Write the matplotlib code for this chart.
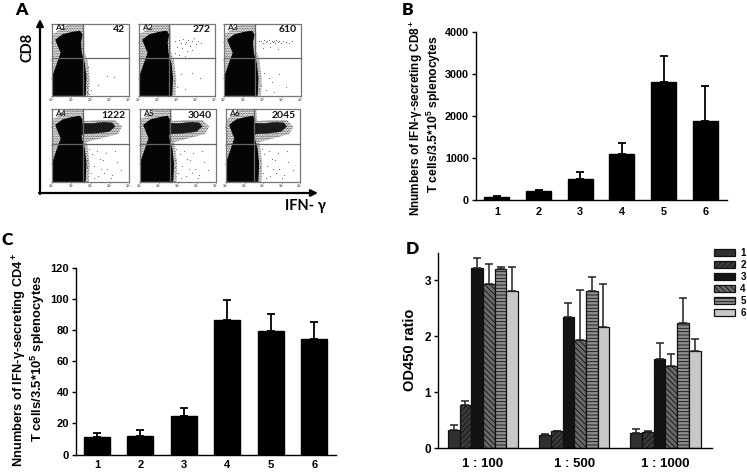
import matplotlib
matplotlib.use("Agg")
import matplotlib.pyplot as plt
from matplotlib.patches import Patch

plt.rcParams['font.family'] = ['Liberation Sans', 'DejaVu Sans']
plt.rcParams['font.weight'] = 'bold'
plt.rcParams['mathtext.fontset'] = 'custom'
plt.rcParams['mathtext.rm'] = 'Liberation Sans:bold'
plt.rcParams['mathtext.it'] = 'Liberation Sans:bold'
plt.rcParams['mathtext.bf'] = 'Liberation Sans:bold'
plt.rcParams['hatch.linewidth'] = 0.6

W, H = 747, 473

# panel B
b_groups = ['1', '2', '3', '4', '5', '6']
b_values = [60, 215, 490, 1100, 2820, 1870]
b_tops = [85, 245, 660, 1360, 3430, 2710]

# panel C
c_groups = ['1', '2', '3', '4', '5', '6']
c_values = [11, 12, 25, 86, 79, 74]
c_tops = [14, 16, 30, 99, 90, 85]

# panel D
d_dilutions = ['1 : 100', '1 : 500', '1 : 1000']
d_series = ['1', '2', '3', '4', '5', '6']
d_values = [[0.32, 0.24, 0.27],
            [0.77, 0.30, 0.28],
            [3.22, 2.34, 1.59],
            [2.93, 1.93, 1.47],
            [3.20, 2.81, 2.24],
            [2.81, 2.16, 1.74]]
d_tops = [[0.41, 0.25, 0.34],
          [0.84, 0.31, 0.31],
          [3.41, 2.60, 1.88],
          [3.30, 2.82, 1.69],
          [3.24, 3.06, 2.69],
          [3.24, 2.94, 1.95]]
d_colors = ['#303030', '#3a3a3a', '#151515', '#6a6a6a', '#8c8c8c', '#c8c8c8']
d_hatches = [None, '//////', 'xxxxxx', '\\\\\\\\\\\\', '-----', None]

# panel A, outlines as fractions of each plot box
a_names = ['A1', 'A2', 'A3', 'A4', 'A5', 'A6']
a_counts = ['42', '272', '610', '1222', '3040', '2045']
a_vline = [0.40, 0.40, 0.40, 0.40, 0.40, 0.38]
core_u = [0.01, 0.43, 0.44, 0.42, 0.38, 0.37, 0.39, 0.36, 0.25, 0.14, 0.05, 0.08, 0.12, 0.08, 0.02, 0.01]
core_v = [0.01, 0.01, 0.25, 0.45, 0.60, 0.75, 0.85, 0.90, 0.88, 0.85, 0.78, 0.70, 0.60, 0.48, 0.30, 0.12]
halo_u = [0.00, 0.48, 0.49, 0.46, 0.42, 0.42, 0.41, 0.20, 0.01, 0.00]
halo_v = [0.00, 0.00, 0.25, 0.50, 0.62, 0.85, 0.99, 0.99, 0.86, 0.40]
band_u = [0.36, 0.50, 0.68, 0.78, 0.82, 0.74, 0.58, 0.42, 0.36]
band_v = [0.81, 0.80, 0.82, 0.81, 0.76, 0.69, 0.67, 0.66, 0.64]
band_halo_u = [0.36, 0.60, 0.82, 0.91, 0.86, 0.65, 0.42, 0.36]
band_halo_v = [0.83, 0.85, 0.85, 0.76, 0.66, 0.60, 0.54, 0.53]
a2_dots_u = [0.48, 0.50, 0.52, 0.55, 0.58, 0.60, 0.62, 0.65, 0.67, 0.70, 0.72, 0.75, 0.78, 0.82, 0.56, 0.63, 0.70, 0.47, 0.52, 0.60, 0.46, 0.50, 0.55, 0.44, 0.48, 0.60, 0.70, 0.80]
a2_dots_v = [0.76, 0.68, 0.78, 0.74, 0.79, 0.72, 0.75, 0.78, 0.70, 0.76, 0.80, 0.72, 0.77, 0.74, 0.66, 0.62, 0.64, 0.60, 0.57, 0.56, 0.22, 0.12, 0.30, 0.08, 0.18, 0.10, 0.32, 0.25]
a3_dots_u = [0.45, 0.48, 0.50, 0.52, 0.54, 0.56, 0.58, 0.60, 0.62, 0.63, 0.65, 0.66, 0.68, 0.70, 0.72, 0.74, 0.76, 0.80, 0.84, 0.88, 0.50, 0.60, 0.70, 0.46, 0.55, 0.65, 0.48, 0.52, 0.58, 0.72, 0.80, 0.62]
a3_dots_v = [0.76, 0.77, 0.74, 0.78, 0.75, 0.76, 0.78, 0.74, 0.77, 0.75, 0.76, 0.73, 0.78, 0.75, 0.77, 0.74, 0.76, 0.75, 0.74, 0.76, 0.66, 0.68, 0.65, 0.10, 0.08, 0.06, 0.15, 0.32, 0.25, 0.30, 0.12, 0.20]
a1_dots_u = [0.45, 0.46, 0.48, 0.44, 0.50, 0.72, 0.80, 0.47, 0.60]
a1_dots_v = [0.05, 0.12, 0.03, 0.30, 0.08, 0.28, 0.27, 0.40, 0.15]
lower_dots_u = [0.46, 0.50, 0.55, 0.60, 0.66, 0.72, 0.78, 0.84, 0.48, 0.52, 0.58, 0.64, 0.70, 0.76, 0.54, 0.62, 0.68, 0.46, 0.82, 0.90]
lower_dots_v = [0.30, 0.12, 0.22, 0.08, 0.30, 0.18, 0.10, 0.28, 0.45, 0.38, 0.42, 0.18, 0.40, 0.06, 0.05, 0.32, 0.12, 0.20, 0.42, 0.16]

# plot boxes of panel A in pixels: left, right, top, bottom
a_boxes = [(52, 129, 24, 96), (139, 215, 24, 96), (224, 301, 24, 96),
           (52, 129, 109, 182), (140, 216, 109, 182), (226, 300, 109, 182)]
a_dots = [(a1_dots_u, a1_dots_v), (a2_dots_u, a2_dots_v), (a3_dots_u, a3_dots_v),
          (lower_dots_u, lower_dots_v), (lower_dots_u, lower_dots_v), (lower_dots_u, lower_dots_v)]


def add_axes(fig, left, right, top, bottom):
    return fig.add_axes([left / W, 1 - bottom / H, (right - left) / W, (bottom - top) / H])


def style_axes(ax, size):
    ax.spines['top'].set_visible(False)
    ax.spines['right'].set_visible(False)
    ax.spines['left'].set_linewidth(1.0)
    ax.spines['bottom'].set_linewidth(1.0)
    ax.tick_params(axis='y', length=3, width=1.0, labelsize=size, pad=2)
    ax.tick_params(axis='x', length=0, labelsize=size, pad=5)


def black_bars(ax, names, values, tops, width):
    x = list(range(1, len(names) + 1))
    errs = [t - v for t, v in zip(tops, values)]
    ax.bar(x, values, width=width, color='black', edgecolor='black')
    ax.errorbar(x, values, yerr=[[0] * len(x), errs], fmt='none', ecolor='black',
                elinewidth=1.3, capsize=2.8, capthick=1.3)
    ax.set_xticks(x)
    ax.set_xticklabels(names)


fig = plt.figure(figsize=(W / 100, H / 100), dpi=100)

# panel A and all free text are placed in pixel coordinates
bg = fig.add_axes([0, 0, 1, 1])
bg.set_xlim(0, W)
bg.set_ylim(H, 0)
bg.axis('off')

for i, (l, r, t, b) in enumerate(a_boxes):
    w, h = r - l, b - t
    px = lambda us: [l + u * w for u in us]
    py = lambda vs: [b - v * h for v in vs]
    bg.fill(px(halo_u), py(halo_v), facecolor='white', edgecolor='#333333', hatch='..........', lw=0, zorder=1)
    if i >= 3:
        bg.fill(px(band_halo_u), py(band_halo_v), facecolor='white', edgecolor='#222222', hatch='..........', lw=0, zorder=1)
        bg.fill(px(band_u), py(band_v), color='#1a1a1a', lw=0.3, zorder=2)
    bg.fill(px(core_u), py(core_v), color='#050505', lw=0.8, zorder=2)
    du, dv = a_dots[i]
    bg.scatter(px(du), py(dv), s=0.7, color='#666666', lw=0, zorder=2)
    bg.plot([l, r, r, l, l], [t, t, b, b, t], color='#777777', lw=0.9, zorder=3)
    bg.plot([l + a_vline[i] * w] * 2, [t, b], color='#666666', lw=0.9, zorder=3)
    bg.plot([l, r], [t + 0.475 * h] * 2, color='#666666', lw=0.9, zorder=3)
    bg.text(l + 3, t + 4, a_names[i], fontsize=6, family='Lato', va='center', color='#222222', zorder=4)
    bg.text(r - 4, t + 6, a_counts[i], fontsize=7.5, family='Lato', ha='right', va='center', color='#111111', zorder=4)
    for k in range(5):
        bg.plot([l + k * w / 4] * 2, [b, b + 1.5], color='#777777', lw=0.5)
        bg.text(l + k * w / 4, b + 4, '$10^%d$' % k, fontsize=2.5, ha='center', va='center', color='#666666')
        bg.plot([l - 1.5, l], [b - k * h / 4] * 2, color='#777777', lw=0.5)

bg.annotate('', xy=(40, 19), xytext=(40, 194), arrowprops=dict(arrowstyle='-|>', color='black', lw=1.6, shrinkA=0, shrinkB=0, mutation_scale=10))
bg.annotate('', xy=(318, 193), xytext=(39, 193), arrowprops=dict(arrowstyle='-|>', color='black', lw=1.6, shrinkA=0, shrinkB=0, mutation_scale=10))
bg.text(28, 47, 'CD8', rotation=90, fontsize=10.5, family='Lato', ha='center', va='center')
bg.text(305, 206, 'IFN- γ', fontsize=10.5, family=['Lato', 'DejaVu Sans'], ha='center', va='center')

bg.text(15, 10, 'A', fontsize=12.5, family='Lato', fontweight='heavy', ha='left', va='center')
bg.text(402, 10, 'B', fontsize=12.5, family='Lato', fontweight='heavy', ha='left', va='center')
bg.text(2, 240, 'C', fontsize=12.5, family='Lato', fontweight='heavy', ha='left', va='center')
bg.text(406, 249, 'D', fontsize=12.5, family='Lato', fontweight='heavy', ha='left', va='center')

bg.text(416, 118, 'Nnumbers of IFN-γ-secreting CD8$^+$', rotation=90, fontsize=8.5, ha='center', va='center')
bg.text(434, 114, 'T cells/3.5*10$^5$ splenocytes', rotation=90, fontsize=8.8, ha='center', va='center')
bg.text(20, 360, 'Nnumbers of IFN-γ-secreting CD4$^+$', rotation=90, fontsize=9.3, ha='center', va='center')
bg.text(38, 358, 'T cells/3.5*10$^5$ splenocytes', rotation=90, fontsize=9.4, ha='center', va='center')

# panel B
ax_b = add_axes(fig, 476, 727, 32, 200)
black_bars(ax_b, b_groups, b_values, b_tops, 0.6)
ax_b.set_xlim(0.5, 6.52)
ax_b.set_ylim(0, 4000)
ax_b.set_yticks([0, 1000, 2000, 3000, 4000])
style_axes(ax_b, 7.8)

# panel C
ax_c = add_axes(fig, 76, 336, 267.5, 454.5)
black_bars(ax_c, c_groups, c_values, c_tops, 0.6)
ax_c.set_xlim(0.52, 6.5)
ax_c.set_ylim(0, 120)
ax_c.set_yticks([0, 20, 40, 60, 80, 100, 120])
style_axes(ax_c, 8)
ax_c.tick_params(axis='x', pad=4)

# panel D
ax_d = add_axes(fig, 438, 712, 252.5, 448)
bar_w = 0.128
for s in range(len(d_series)):
    xs = [g + (s - 2.5) * bar_w for g in range(len(d_dilutions))]
    errs = [t - v for t, v in zip(d_tops[s], d_values[s])]
    ax_d.bar(xs, d_values[s], width=bar_w, color=d_colors[s], edgecolor='#111111', linewidth=0.9)
    for patch in ax_d.patches[-3:]:
        if d_hatches[s]:
            patch.set_hatch(d_hatches[s])
    ax_d.errorbar(xs, d_values[s], yerr=[[0] * 3, errs], fmt='none', ecolor='#222222',
                  elinewidth=1.1, capsize=2.6, capthick=1.1)
ax_d.set_xlim(-0.493, 2.51)
ax_d.set_ylim(0, 3.5)
ax_d.set_yticks([0, 1, 2, 3])
ax_d.set_xticks(range(len(d_dilutions)))
ax_d.set_xticklabels(d_dilutions)
style_axes(ax_d, 9.5)
ax_d.tick_params(axis='x', pad=7)
ax_d.tick_params(axis='y', labelsize=8.5)
ax_d.set_ylabel('OD450 ratio', fontsize=10.5, labelpad=5, fontweight='bold')

handles = [Patch(facecolor=c, edgecolor='#111111', hatch=h, linewidth=0.9, label=n)
           for c, h, n in zip(d_colors, d_hatches, d_series)]
fig.legend(handles=handles, loc='upper left', bbox_to_anchor=(714 / W, 1 - 248 / H), frameon=False,
           fontsize=7, handlelength=2.15, handleheight=0.7, handletextpad=0.55, labelspacing=0.2, borderpad=0, borderaxespad=0)

fig.savefig('out.png', dpi=100)
